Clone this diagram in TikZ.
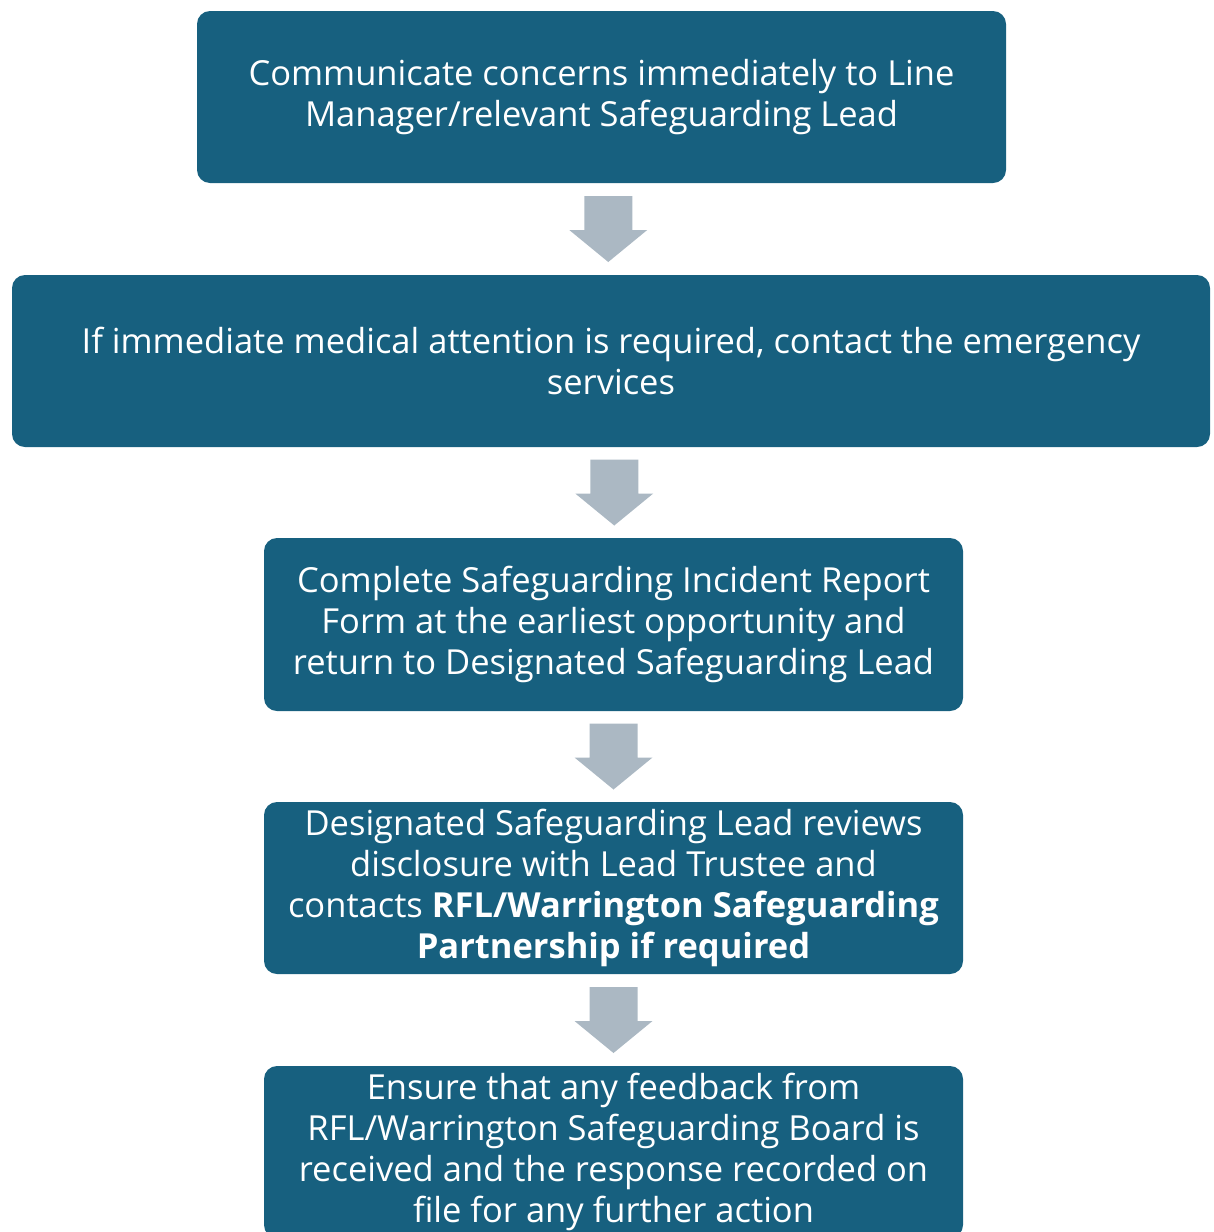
\documentclass[tikz,border=0pt]{standalone}
\usepackage{fontspec}
\setmainfont{Open Sans}
\usetikzlibrary{calc}
\definecolor{boxblue}{HTML}{17607F}
\definecolor{arrowgray}{HTML}{ABB8C3}
\newcommand{\downblock}[2]{%
  \coordinate (#1) at #2;
  \fill[arrowgray] ([shift={(-24,-33)}]#1) -- ([shift={(24,-33)}]#1) -- ([shift={(24,1)}]#1)
    -- ([shift={(39,1)}]#1) -- ([shift={(0,33)}]#1) -- ([shift={(-39,1)}]#1)
    -- ([shift={(-24,1)}]#1) -- cycle;}
\begin{document}
\begin{tikzpicture}[x=1pt,y=-1pt,
  stepbox/.style={fill=boxblue, rounded corners=13pt, text=white, align=center,
    inner sep=0pt, font=\fontsize{34.5}{41}\selectfont}]
\useasboundingbox (0,0) rectangle (1214,1232);
\node[stepbox, minimum width=809pt, minimum height=172pt] (b1) at (601.5,97)
  {Communicate concerns immediately to Line\\Manager/relevant Safeguarding Lead};
\node[stepbox, minimum width=1198pt, minimum height=172pt] (b2) at (611,361)
  {If immediate medical attention is required, contact the emergency\\services};
\node[stepbox, minimum width=699pt, minimum height=173pt] (b3) at (613.5,624.5)
  {Complete Safeguarding Incident Report\\Form at the earliest opportunity and\\return to Designated Safeguarding Lead};
\node[stepbox, minimum width=699pt, minimum height=172pt] (b4) at (613.5,888)
  {Designated Safeguarding Lead reviews\\disclosure with Lead Trustee and\\contacts \textbf{RFL/Warrington Safeguarding}\\\textbf{Partnership if required}};
\node[stepbox, minimum width=699pt, minimum height=172pt] (b5) at (613.5,1152)
  {Ensure that any feedback from\\RFL/Warrington Safeguarding Board is\\received and the response recorded on\\file for any further action};
\downblock{a1}{($(b1.south)!0.5!(b2.north)+(2,0)$)}
\downblock{a2}{($(b2.south)!0.5!(b3.north)+(2,0)$)}
\downblock{a3}{($(b3.south)!0.5!(b4.north)$)}
\downblock{a4}{($(b4.south)!0.5!(b5.north)$)}
\end{tikzpicture}
\end{document}
